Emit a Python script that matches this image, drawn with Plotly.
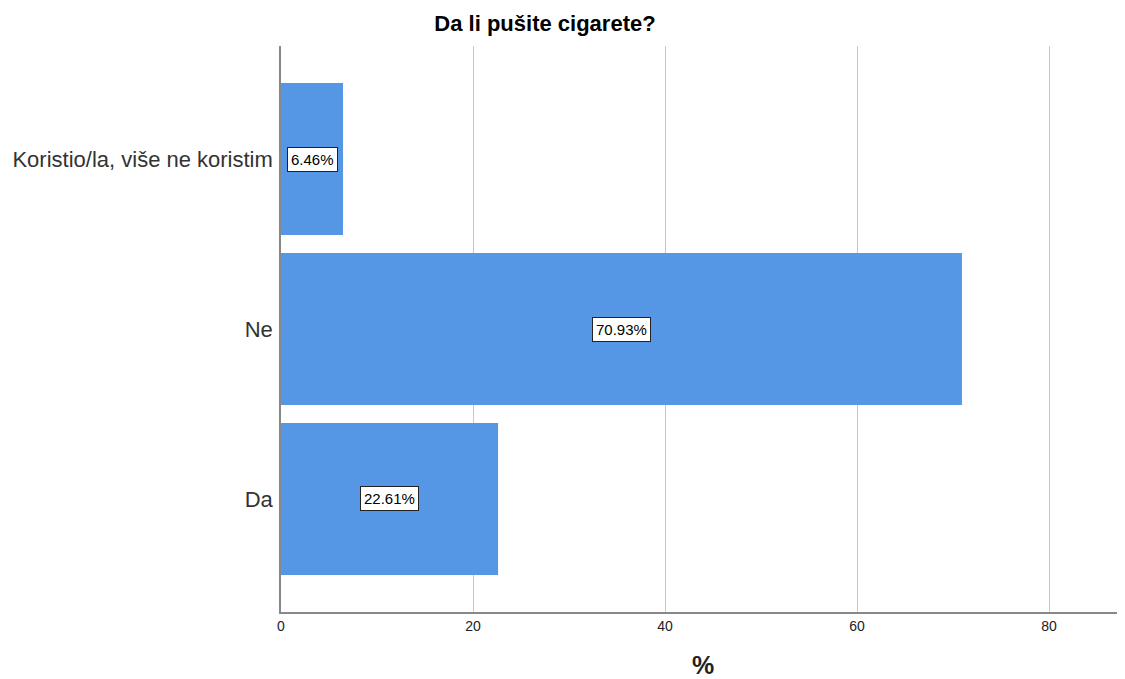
import plotly.graph_objects as go

categories = ["Da", "Ne", "Koristio/la, više ne koristim"]
values = [22.61, 70.93, 6.46]
labels = ["22.61%", "70.93%", "6.46%"]
x_ticks = [0, 20, 40, 60, 80]

FONT = "Liberation Sans, Arial"

fig = go.Figure()
fig.add_trace(go.Bar(
    x=values, y=categories, orientation="h",
    marker=dict(color="#5596E5", line=dict(width=0)),
    hoverinfo="skip",
))

for v, c, t in zip(values, categories, labels):
    fig.add_annotation(
        x=v / 2, y=c, text=t, showarrow=False,
        font=dict(family=FONT, size=15, color="#000000"),
        bgcolor="#FFFFFF", bordercolor="#222222", borderwidth=1, borderpad=3,
    )

W, H = 1117, 671
fig.update_layout(
    width=W, height=H,
    margin=dict(l=273, r=0, t=38, b=67),
    paper_bgcolor="white", plot_bgcolor="white",
    bargap=0.106,
    showlegend=False,
    title=dict(text="<b>Da li pušite cigarete?</b>", x=537 / W, xanchor="center",
               y=1 - 15 / H, yanchor="middle",
               font=dict(family=FONT, size=22, color="#000000")),
    xaxis=dict(
        range=[0, 844 / 9.6], tickvals=x_ticks, ticktext=[str(t) for t in x_ticks],
        showgrid=True, gridcolor="#C8C8C8", gridwidth=1,
        zeroline=False, showline=True, linecolor="#888888", linewidth=1.5,
        ticks="", tickfont=dict(family=FONT, size=14, color="#222222"),
        title=dict(text="<b>%</b>", standoff=28,
                   font=dict(family=FONT, size=25, color="#222222")),
    ),
    yaxis=dict(
        categoryorder="array", categoryarray=categories,
        range=[-0.665, 2.665],
        showgrid=False, zeroline=False, showline=True, linecolor="#888888", linewidth=1.5,
        ticks="", ticklabelstandoff=2,
        tickfont=dict(family=FONT, size=22, color="#333333"),
    ),
)

fig.write_html("out.html")
